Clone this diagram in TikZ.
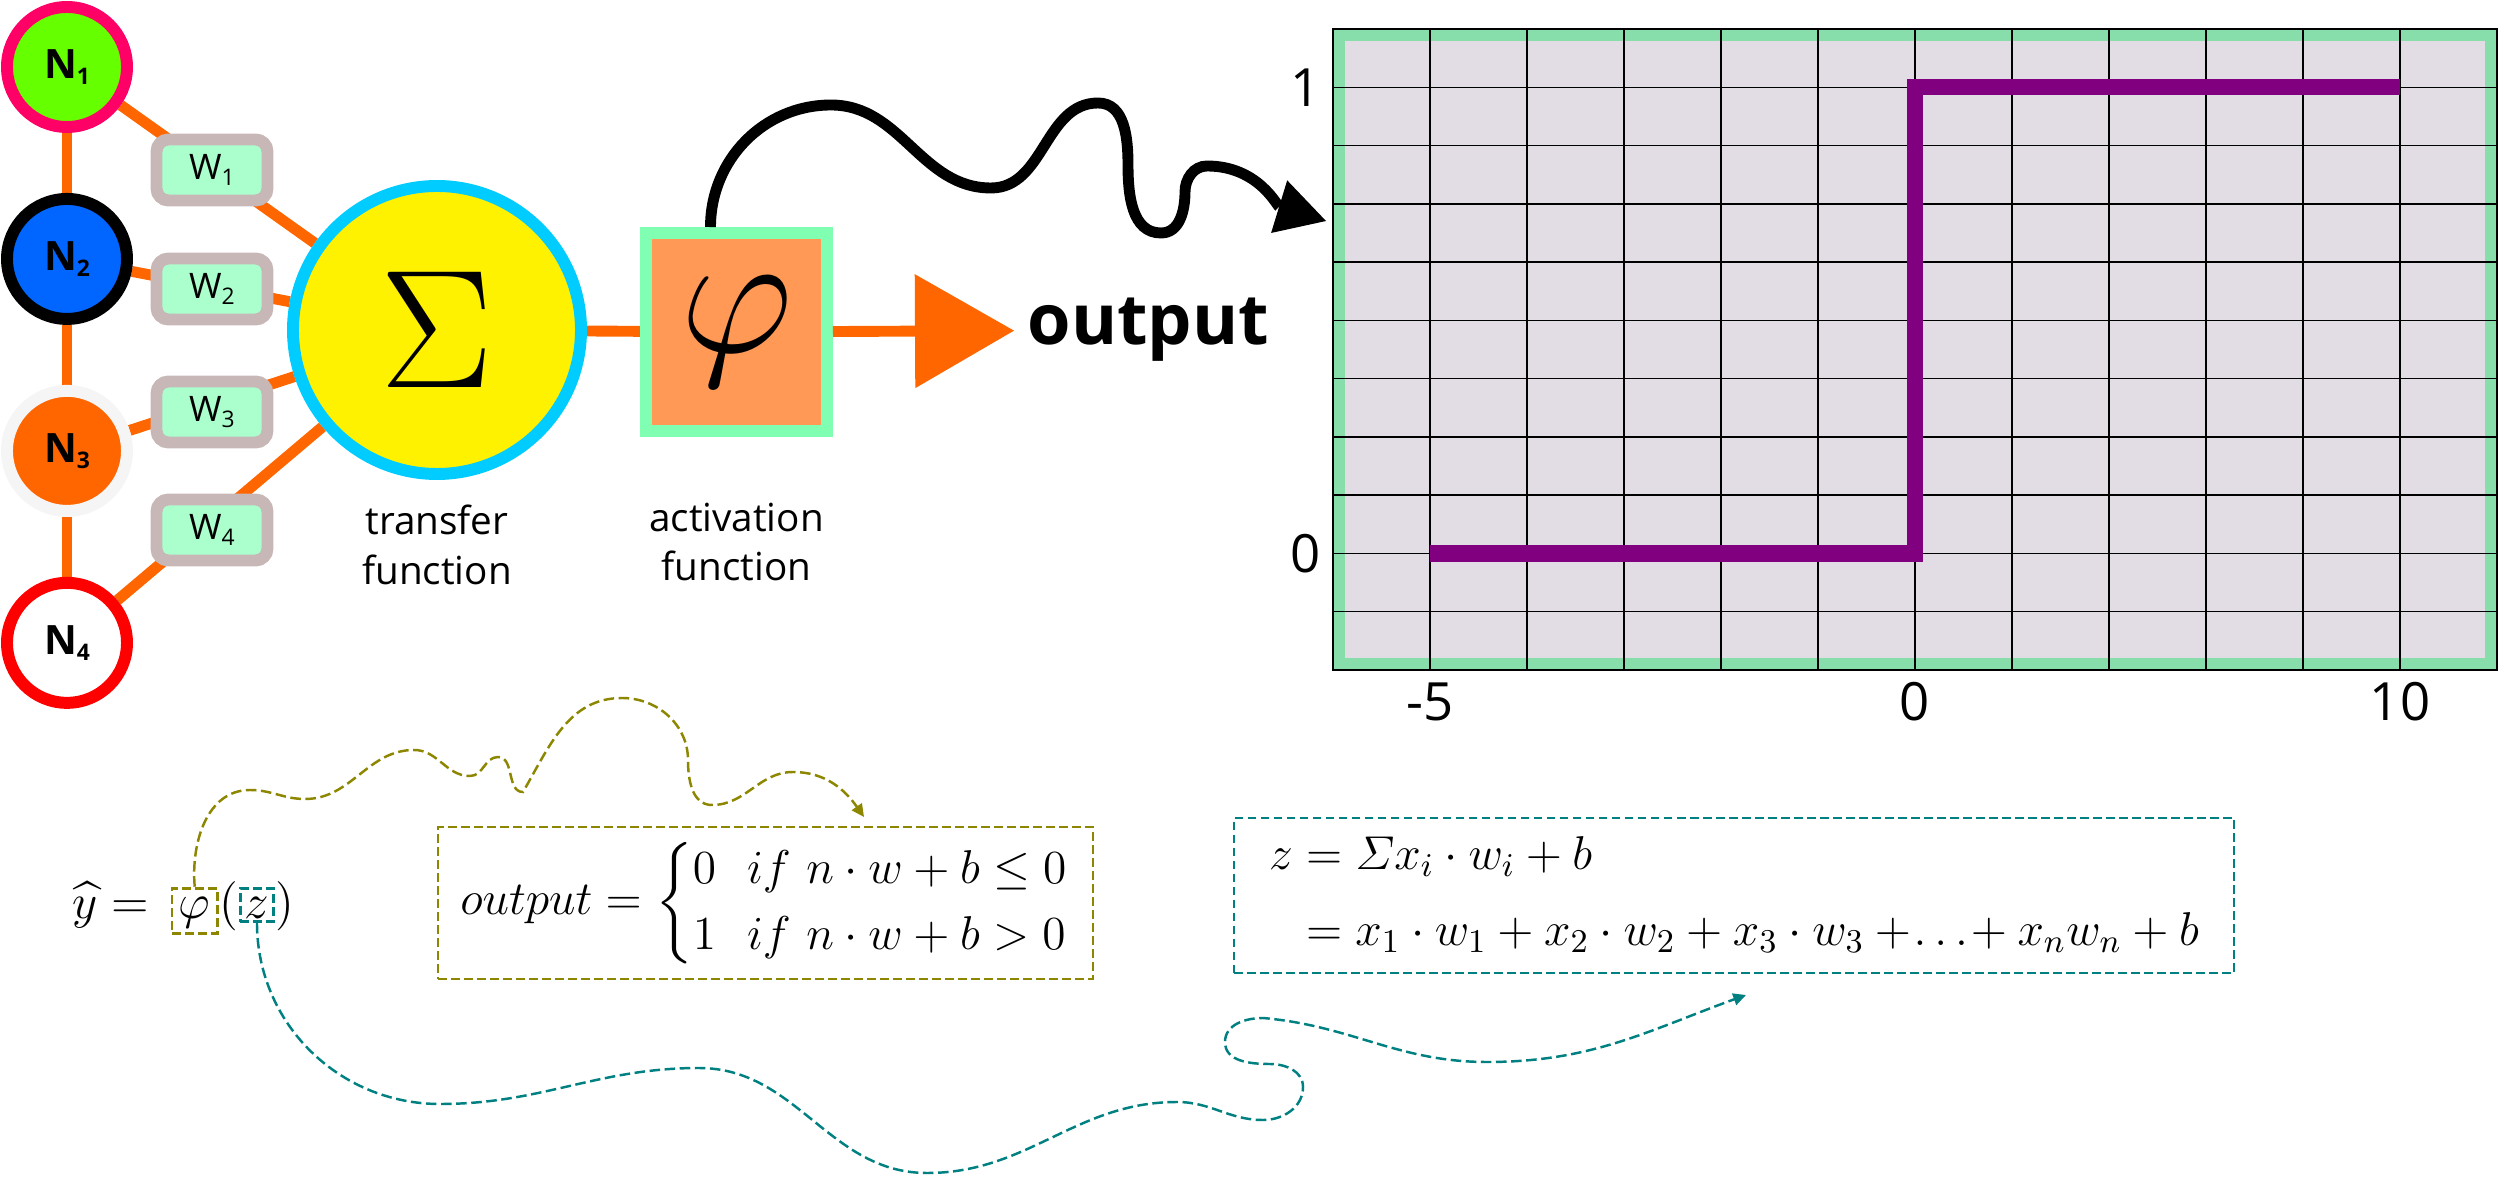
\RequirePackage{fix-cm}
\documentclass[tikz,border=0pt]{standalone}
\usepackage{amsmath}
\usepackage[no-math]{fontspec}
\usepackage{xcolor}
\usetikzlibrary{positioning,arrows.meta}
\newfontfamily\labelfont{Open Sans}
\definecolor{ngreen}{HTML}{66FF00}
\definecolor{npink}{HTML}{FF0066}
\definecolor{nblue}{HTML}{0066FF}
\definecolor{norange}{HTML}{FF6600}
\definecolor{nwhite}{HTML}{F5F5F5}
\definecolor{wfill}{HTML}{AAFFCC}
\definecolor{wborder}{HTML}{C8B7B7}
\definecolor{sumcyan}{HTML}{00CCFF}
\definecolor{phifill}{HTML}{FF9955}
\definecolor{phiborder}{HTML}{80FFB3}
\definecolor{plotfill}{HTML}{E2DDE5}
\definecolor{plotgreen}{HTML}{87DEAA}
\definecolor{steppurple}{HTML}{800080}
\newcommand{\lowidx}[1]{\raisebox{-1.8pt}{\fontsize{6.5}{7}\selectfont #1}}
\renewcommand{\arraystretch}{1.1}
\setlength{\jot}{4.6pt}
\pgfdeclarelayer{background}
\pgfsetlayers{background,main}

\begin{document}
\begin{tikzpicture}[
  neuron/.style={circle, minimum size=1.2cm, inner sep=0pt, line width=3.4pt,
    font=\labelfont\bfseries\fontsize{11.5}{13}\selectfont},
  wbox/.style={rectangle, rounded corners=0.12cm, draw=wborder, fill=wfill,
    line width=3.4pt, minimum width=1.11cm, minimum height=0.61cm, inner sep=0pt,
    font=\labelfont\fontsize{10}{12}\selectfont},
  conn/.style={draw=norange, line width=3.1pt},
  funclbl/.style={align=center, inner sep=0pt, font=\labelfont\fontsize{11}{14.2}\selectfont},
  axislbl/.style={font=\labelfont\fontsize{15}{18}\selectfont},
  mathlbl/.style={font=\fontsize{14}{17}\selectfont},
  boxmath/.style={font=\fontsize{13.5}{17}\selectfont},
  olivedash/.style={draw=olive, line width=0.8pt, dash pattern=on 2.5pt off 1.2pt},
  tealdash/.style={draw=teal, line width=0.8pt, dash pattern=on 2.5pt off 1.2pt},
  curvy/.style={line width=0.7pt, dash pattern=on 3pt off 1.3pt,
    -{Triangle[length=3.6pt, width=3.4pt]}},
]
\useasboundingbox (0,0) rectangle (25,-11.79);

% inputs
\node[neuron, draw=npink, fill=ngreen] (n1) at (0.67,-0.67) {N\lowidx{1}};
\node[neuron, draw=black, fill=nblue, below=0.6cm of n1] (n2) {N\lowidx{2}};
\node[neuron, draw=nwhite, fill=norange, below=0.6cm of n2] (n3) {N\lowidx{3}};
\node[neuron, draw=red, fill=white, below=0.6cm of n3] (n4) {N\lowidx{4}};

% weights
\node[wbox] (w1) at (2.12,-1.70) {W\lowidx{1}};
\node[wbox] (w2) at (2.12,-2.89) {W\lowidx{2}};
\node[wbox] (w3) at (2.12,-4.12) {W\lowidx{3}};
\node[wbox] (w4) at (2.12,-5.30) {W\lowidx{4}};

% transfer and activation
\node[circle, draw=sumcyan, fill=yellow, line width=3.4pt, minimum size=2.88cm,
  inner sep=0pt, font=\fontsize{48}{50}\selectfont] (sum) at (4.37,-3.30) {$\Sigma$};
\node[funclbl, below=0.24cm of sum] (sumlbl) {transfer\\function};
\node[rectangle, draw=phiborder, fill=phifill, line width=3.4pt, minimum width=1.81cm,
  minimum height=1.98cm, inner sep=0pt, font=\fontsize{50}{52}\selectfont] (phi) at (7.365,-3.32) {$\varphi$};
\node[funclbl, below=0.65cm of phi] (philbl) {activation\\function};
\node[anchor=west, inner xsep=0.13cm, font=\labelfont\bfseries\fontsize{20}{24}\selectfont]
  (output) at (10.14,-3.30) {output};

\begin{pgfonlayer}{background}
  \draw[conn] (n1) -- (n2) (n2) -- (n3) (n3) -- (n4);
  \foreach \i in {1,...,4}
    \draw[conn] (n\i) -- (sum);
  \draw[conn] (sum) -- (phi);
\end{pgfonlayer}
\draw[conn, -{Triangle[length=0.99cm, width=1.14cm, line width=0pt]}] (phi) -- (output);

% step plot
\begin{scope}[shift={(13.33,-6.70)}, x=0.97cm, y=0.5827cm]
  \fill[plotfill] (0,0) rectangle (12,11);
  \draw[plotgreen, line width=3.4pt] ([shift={(0.06cm,0.06cm)}]0,0) rectangle ([shift={(-0.06cm,-0.06cm)}]12,11);
  \foreach \x in {1,...,11}
    \draw[black, line width=0.4pt] (\x,0) -- (\x,11);
  \foreach \y in {1,...,10}
    \draw[black, line width=0.4pt] (0,\y) -- (12,\y);
  \draw[black, line width=0.7pt] (0,0) rectangle (12,11);
  \draw[steppurple, line width=4.6pt, line join=miter] (1,2) -- (6,2) -- (6,10) -- (11,10);
  \node[axislbl, below] (xlo) at (1,0) {-5};
  \node[axislbl, below] (xmid) at (6,0) {0};
  \node[axislbl, below] (xhi) at (11,0) {10};
  \node[axislbl, left] (ylo) at (0,2) {0};
  \node[axislbl, left] (yhi) at (0,10) {1};
\end{scope}

\coordinate (wavetip) at (13.26,-2.21);
\draw[line width=3.1pt, -{Triangle[length=0.49cm, width=0.55cm, line width=0pt]}]
  ([xshift=-0.26cm]phi.north) to[out=90,in=180] (8.31,-1.05)
  to[out=0,in=180] (9.91,-1.88) to[out=0,in=180] (10.98,-1.03)
  to[out=0,in=90] (11.28,-1.65) to[out=-90,in=180] (11.61,-2.33)
  to[out=0,in=-90] (11.85,-1.92) to[out=90,in=180] (12.07,-1.66)
  to[out=0,in=163] (wavetip);

% formulas
\node[mathlbl, inner sep=0pt, anchor=base west] (yhat) at (0.72,-9.18) {$\widehat{y}={}$};
\node[mathlbl, olivedash, inner xsep=2pt, inner ysep=1pt, text height=7.5pt, text depth=3.3pt,
  anchor=base west] (phimk) at ([xshift=2pt]yhat.base east) {$\varphi$};
\node[mathlbl, inner sep=0pt, anchor=base west] (lpar) at (phimk.base east) {$($};
\node[mathlbl, tealdash, inner xsep=1.2pt, inner ysep=1pt, text height=7.5pt, text depth=0pt,
  anchor=base west] (zmk) at (lpar.base east) {$z$};
\node[mathlbl, inner sep=0pt, anchor=base west] (rpar) at (zmk.base east) {$)$};

\node[boxmath, olivedash, minimum width=6.55cm, minimum height=1.52cm, inner sep=0pt]
  (outbox) at (7.655,-9.03)
  {$output = \left\{\begin{array}{@{}l@{\ \ }l@{}}
    0 & if\ n\cdot w+b\leq 0\\
    1 & if\ n\cdot w+b>0
  \end{array}\right.$};
\node[boxmath, tealdash, minimum width=10cm, minimum height=1.55cm, inner sep=0pt]
  (zbox) at (17.34,-8.955)
  {$\begin{aligned}
    z &= \varSigma x_i\cdot w_i+b\\
      &= x_1\cdot w_1+x_2\cdot w_2+x_3\cdot w_3+\!\ldots\!+x_n w_n+b
  \end{aligned}$};

\coordinate (olivetip) at (8.64,-8.17);
\draw[curvy, olive] (phimk.north) to[out=95,in=180] (2.50,-7.90)
  to[out=0,in=180] (3.05,-7.99) to[out=0,in=180] (4.14,-7.50)
  to[out=0,in=180] (4.70,-7.76) to[out=0,in=180] (4.98,-7.57)
  to[out=0,in=180] (5.23,-7.92) to[out=60,in=180] (6.22,-6.98)
  to[out=0,in=90] (6.88,-7.60) to[out=-90,in=180] (7.12,-8.05)
  to[out=0,in=180] (7.93,-7.72) to[out=0,in=125] (olivetip);

\coordinate (tealtip) at (17.46,-9.95);
\draw[curvy, teal] (zmk.south) to[out=-90,in=180] (4.40,-11.04)
  to[out=0,in=180] (6.99,-10.68) to[out=0,in=180] (9.27,-11.73)
  to[out=0,in=180] (11.77,-11.02) to[out=0,in=180] (12.63,-11.20)
  to[out=0,in=-90] (13.03,-10.87) to[out=90,in=0] (12.70,-10.64)
  to[out=180,in=-90] (12.25,-10.42) to[out=90,in=180] (12.63,-10.18)
  to[out=-5,in=180] (14.87,-10.62) to[out=0,in=200] (tealtip);
\end{tikzpicture}
\end{document}
